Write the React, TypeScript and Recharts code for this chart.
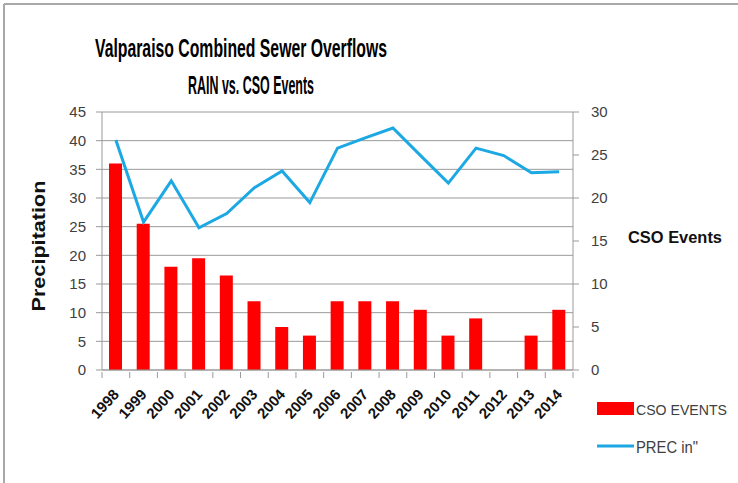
import React from 'react';
import { ComposedChart, Bar, Line, XAxis, YAxis, CartesianGrid } from 'recharts';

const years = ['1998', '1999', '2000', '2001', '2002', '2003', '2004', '2005', '2006', '2007', '2008', '2009', '2010', '2011', '2012', '2013', '2014'];
const csoEvents = [24, 17, 12, 13, 11, 8, 5, 4, 8, 8, 8, 7, 4, 6, 0, 4, 7];
const precipitation = [40.1, 25.8, 33, 24.8, 27.3, 31.8, 34.7, 29.2, 38.7, 40.5, 42.2, 37.4, 32.6, 38.7, 37.4, 34.4, 34.6];
const leftTicks = [0, 5, 10, 15, 20, 25, 30, 35, 40, 45];
const rightTicks = [0, 5, 10, 15, 20, 25, 30];

const W = 738;
const H = 483;
const PLOT_LEFT = 102;
const PLOT_RIGHT = 573;
const PLOT_TOP = 112;
const PLOT_BOTTOM = 370;
const BAND = (PLOT_RIGHT - PLOT_LEFT) / years.length;

const RED = '#ff0000';
const BLUE = '#1ca8e3';
const AXIS = '#9a9a9a';
const TXT = '#404040';
const FONT = '"Liberation Sans", Arial, sans-serif';
const NARROW = '"Liberation Sans Narrow", "Liberation Sans", Arial, sans-serif';

const data = years.map((year, i) => ({
  year,
  cso: csoEvents[i],
  prec: precipitation[i],
}));

// Excel-style: tick marks sit between categories, labels rotated
const YearTick = (props: any) => {
  const { x, y, payload, index } = props;
  const half = BAND / 2;
  const ax = x + 4;
  const ay = y + 23;
  return (
    <g>
      <line x1={x - half} x2={x - half} y1={y} y2={y + 6} stroke={AXIS} />
      {index === years.length - 1 && (
        <line x1={x + half} x2={x + half} y1={y} y2={y + 6} stroke={AXIS} />
      )}
      <text
        x={ax}
        y={ay}
        textAnchor="end"
        transform={`rotate(-48 ${ax} ${ay})`}
        fontFamily={NARROW}
        fontWeight="bold"
        fontSize={15}
        fill="#111"
      >
        {payload.value}
      </text>
    </g>
  );
};

export default function App() {
  return (
    <div style={{ position: 'absolute', left: 0, top: 0, width: W, height: H, background: '#fff' }}>
      <ComposedChart
        width={W}
        height={H}
        data={data}
        margin={{ top: PLOT_TOP, right: 0, bottom: 53, left: 0 }}
      >
        <CartesianGrid horizontal vertical={false} stroke={AXIS} yAxisId="left" />
        <XAxis
          dataKey="year"
          interval={0}
          tickSize={0}
          tickLine={false}
          height={H - PLOT_BOTTOM - 53}
          axisLine={{ stroke: AXIS }}
          tick={<YearTick />}
        />
        <YAxis
          yAxisId="left"
          orientation="left"
          width={PLOT_LEFT}
          domain={[0, 45]}
          ticks={leftTicks}
          interval={0}
          tickSize={6}
          tickMargin={10}
          axisLine={{ stroke: AXIS }}
          tickLine={{ stroke: AXIS }}
          tick={{ fill: TXT, fontSize: 15, fontFamily: FONT }}
        />
        <YAxis
          yAxisId="right"
          orientation="right"
          width={W - PLOT_RIGHT}
          domain={[0, 30]}
          ticks={rightTicks}
          interval={0}
          tickSize={6}
          tickMargin={12}
          axisLine={{ stroke: AXIS }}
          tickLine={{ stroke: AXIS }}
          tick={{ fill: TXT, fontSize: 15, fontFamily: FONT }}
        />
        <Bar yAxisId="right" dataKey="cso" fill={RED} barSize={13} isAnimationActive={false} />
        <Line
          yAxisId="left"
          dataKey="prec"
          type="linear"
          stroke={BLUE}
          strokeWidth={3}
          dot={false}
          isAnimationActive={false}
        />
      </ComposedChart>

      <svg
        width={W}
        height={H}
        style={{ position: 'absolute', left: 0, top: 0, pointerEvents: 'none' }}
      >
        {/* frame */}
        <line x1={4} x2={W} y1={4} y2={4} stroke="#a8a8a8" strokeWidth={2} />
        <line x1={4} x2={4} y1={4} y2={H} stroke="#a8a8a8" strokeWidth={2} />

        {/* title */}
        <text x={241} y={57} textAnchor="middle" fontFamily={NARROW} fontWeight="bold" fontSize={25} fill="#000" textLength={292} lengthAdjust="spacingAndGlyphs">
          Valparaiso Combined Sewer Overflows
        </text>
        <text x={251} y={94} textAnchor="middle" fontFamily={NARROW} fontWeight="bold" fontSize={25} fill="#000" textLength={126} lengthAdjust="spacingAndGlyphs">
          RAIN vs. CSO Events
        </text>

        {/* axis titles */}
        <text x={45} y={246} textAnchor="middle" transform="rotate(-90 45 246)" fontFamily={FONT} fontWeight="bold" fontSize={19} fill="#111" textLength={131} lengthAdjust="spacingAndGlyphs">
          Precipitation
        </text>
        <text x={628} y={243} fontFamily={NARROW} fontWeight="bold" fontSize={17} fill="#111" textLength={94} lengthAdjust="spacingAndGlyphs">
          CSO Events
        </text>

        {/* legend */}
        <rect x={597} y={402} width={37} height={13} fill={RED} />
        <text x={636} y={415} fontFamily={NARROW} fontSize={15} fill={TXT} textLength={91} lengthAdjust="spacingAndGlyphs">
          CSO EVENTS
        </text>
        <line x1={597} x2={634} y1={446} y2={446} stroke={BLUE} strokeWidth={3} />
        <text x={636} y={453} fontFamily={NARROW} fontSize={16} fill={TXT} textLength={62} lengthAdjust="spacingAndGlyphs">
          PREC in"
        </text>
      </svg>
    </div>
  );
}
